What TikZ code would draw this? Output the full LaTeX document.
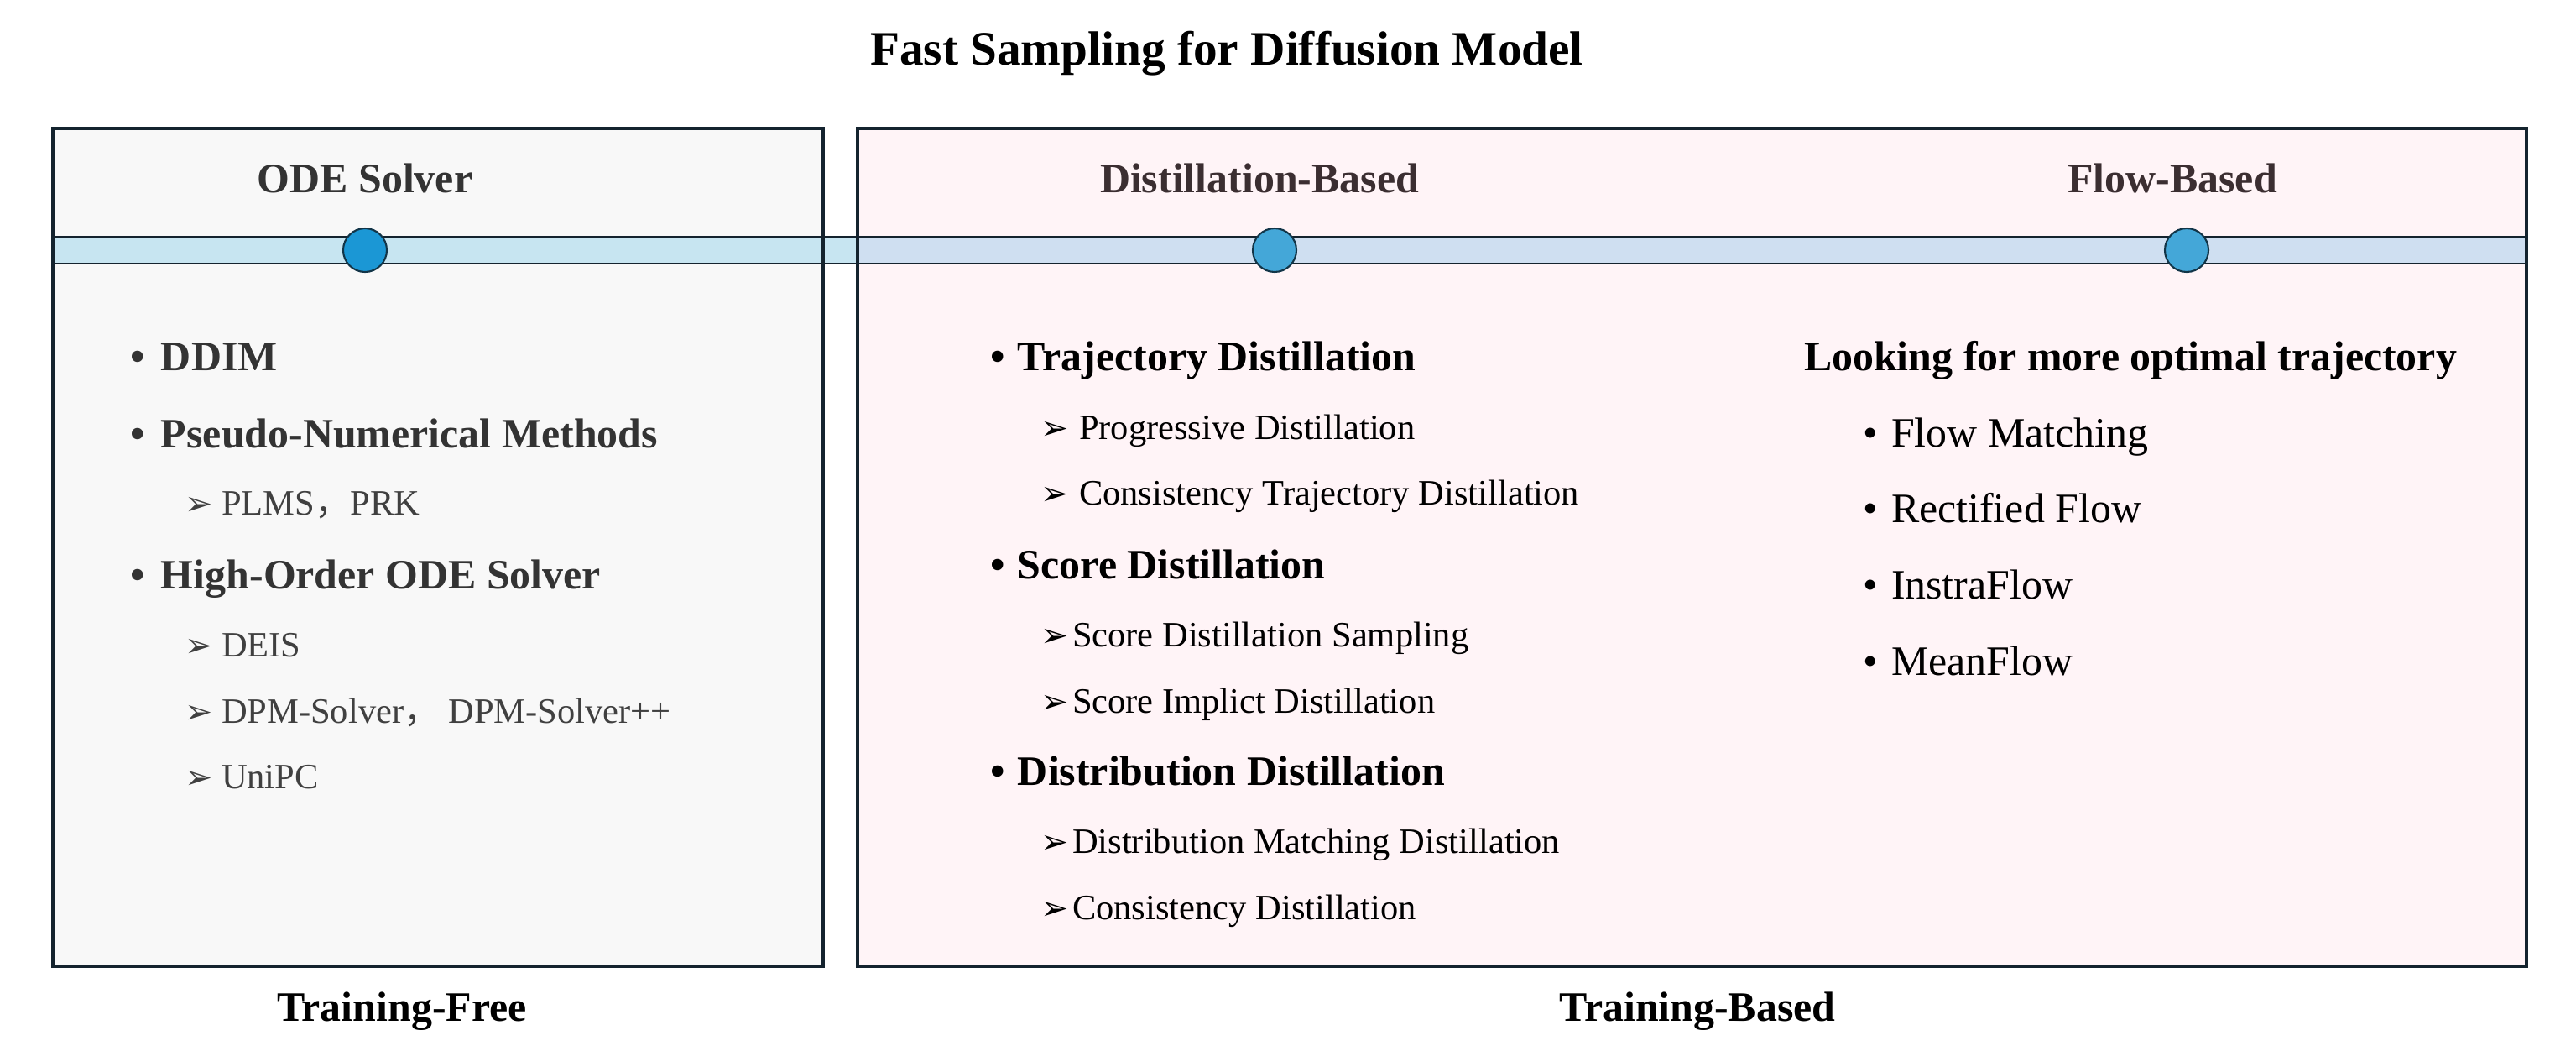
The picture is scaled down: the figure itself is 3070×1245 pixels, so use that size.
\documentclass[tikz,border=0pt]{standalone}
\usepackage{fontspec}
\setmainfont{Liberation Serif}
\newfontfamily\symfont{DejaVu Sans}
\newfontfamily\cjk{Noto Sans CJK SC}
\usepackage{xcolor}
\usepackage{tikz}
\definecolor{boxline}{HTML}{14232E}
\definecolor{freefill}{HTML}{F8F8F8}
\definecolor{basedfill}{HTML}{FFF4F7}
\definecolor{bandL}{HTML}{C7E5F1}
\definecolor{bandR}{HTML}{CFDFF1}
\definecolor{dotA}{HTML}{1B97D5}
\definecolor{dotB}{HTML}{44A7D8}
\definecolor{dotline}{HTML}{123548}
\definecolor{headgray}{HTML}{333333}
\definecolor{headbrown}{HTML}{3B2E31}
\definecolor{subgray}{HTML}{404040}
\newcommand{\bigsize}{\fontsize{14.2}{17}\selectfont}
\newcommand{\subsize}{\fontsize{12.1}{14}\selectfont}
\newcommand{\tipmark}{{\symfont\fontsize{11.3}{12}\selectfont ➢}}

\begin{document}
\begin{tikzpicture}[x=0.1mm, y=-0.1mm,
  every node/.style={inner sep=0pt, outer sep=0pt},
  head/.style={anchor=base, font=\bigsize\bfseries},
  item/.style={anchor=base west, font=\bigsize\bfseries},
  plain/.style={anchor=base west, font=\bigsize},
  sub/.style={anchor=base west, font=\subsize},
  dot/.style={circle, minimum size=5.2mm, draw=dotline, line width=0.6pt}]
  \useasboundingbox (0,0) rectangle (3070,1245);

  % panels and the time band
  \fill[freefill] (63,153) rectangle (981,1151);
  \fill[basedfill] (1022,153) rectangle (3011,1151);
  \fill[bandL] (63,282) rectangle (1022,314);
  \fill[bandR] (1022,282) rectangle (3011,314);
  \draw[boxline, line width=0.4pt] (63,282) -- (3011,282) (63,314) -- (3011,314);
  \draw[boxline, line width=1pt] (63,153) rectangle (981,1151);
  \draw[boxline, line width=1pt] (1022,153) rectangle (3011,1151);

  \node[dot, fill=dotA] (odeDot) at (435,298) {};
  \node[dot, fill=dotB] (distDot) at (1519,298) {};
  \node[dot, fill=dotB] (flowDot) at (2606,298) {};

  \node[font=\fontsize{16.3}{19}\selectfont\bfseries, anchor=base] (title) at (1462,77) {Fast Sampling for Diffusion Model};
  \node[head, headgray] (odeHead) at (435,229) {ODE Solver};
  \node[head, headbrown] (distHead) at (1501,229) {Distillation-Based};
  \node[head, headbrown] (flowHead) at (2589,229) {Flow-Based};

  % training-free column
  \foreach \y/\txt [count=\i] in {441/DDIM, 533/Pseudo-Numerical Methods, 701/High-Order ODE Solver}{
    \node[item, headgray] (free\i) at (155,\y) {\makebox[3.7mm][l]{•}\txt};
  }
  \foreach \y/\txt [count=\i] in {613/{PLMS{\cjk ，}PRK}, 782/DEIS, 861/{DPM-Solver{\cjk ，} DPM-Solver++}, 939/UniPC}{
    \node[sub, subgray] (freesub\i) at (220,\y) {\makebox[4.4mm][l]{\tipmark}\txt};
  }

  % distillation column
  \foreach \y/\txt [count=\i] in {441/Trajectory Distillation, 689/Score Distillation, 935/Distribution Distillation}{
    \node[item] (dist\i) at (1180,\y) {\makebox[3.3mm][l]{•}\txt};
  }
  \foreach \y/\txt/\gap [count=\i] in {523/Progressive Distillation/4.6, 601/Consistency Trajectory Distillation/4.6,
      770/Score Distillation Sampling/3.8, 849/Score Implict Distillation/3.8,
      1016/Distribution Matching Distillation/3.8, 1095/Consistency Distillation/3.8}{
    \node[sub] (distsub\i) at (1240,\y) {\makebox[\gap mm][l]{\tipmark}\txt};
  }

  % flow column
  \node[item] (flowLead) at (2150,441) {Looking for more optimal trajectory};
  \foreach \y/\txt [count=\i] in {532/Flow Matching, 622/Rectified Flow, 713/InstraFlow, 804/MeanFlow}{
    \node[plain] (flow\i) at (2220,\y) {\makebox[3.4mm][l]{•}\txt};
  }

  \node[head] (freeFoot) at (479,1216) {Training-Free};
  \node[head] (basedFoot) at (2023,1216) {Training-Based};
\end{tikzpicture}
\end{document}
